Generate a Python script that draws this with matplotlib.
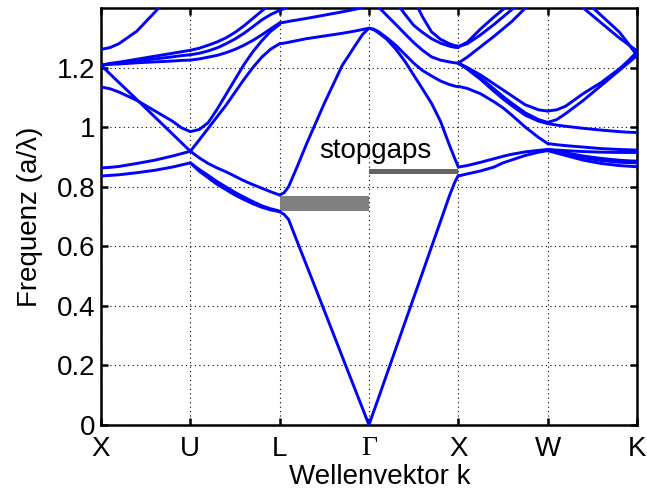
import matplotlib.pyplot as plt

plt.rcParams['font.family'] = ['Liberation Sans', 'DejaVu Sans']

kpoint_labels = ['X', 'U', 'L', 'Γ', 'X', 'W', 'K']
ytick_vals = [0, 0.2, 0.4, 0.6, 0.8, 1.0, 1.2]
ytick_labels = ['0', '0.2', '0.4', '0.6', '0.8', '1', '1.2']

# band frequencies (a/lambda) read along each part of the k-path
# t = fraction of the way between the two symmetry points

# X -> U
xu_t = [0, 0.1, 0.2, 0.4, 0.6, 0.8, 0.9, 1.0]
xu_bands = [
    [0.836, 0.838, 0.840, 0.847, 0.855, 0.866, 0.873, 0.880],
    [0.863, 0.865, 0.868, 0.878, 0.889, 0.903, 0.911, 0.919],
    [1.208, 1.179, 1.150, 1.093, 1.035, 0.977, 0.948, 0.919],
    [1.135, 1.129, 1.118, 1.090, 1.055, 1.020, 0.998, 0.985],
    [1.208, 1.211, 1.212, 1.216, 1.219, 1.222, 1.224, 1.225],
    [1.208, 1.212, 1.215, 1.222, 1.229, 1.236, 1.240, 1.243],
    [1.208, 1.214, 1.218, 1.228, 1.238, 1.248, 1.253, 1.258],
    [1.261, 1.267, 1.280, 1.322, 1.385, 1.450, 1.485, 1.520],
]

# U -> L
ul_t = [0, 0.1, 0.2, 0.3, 0.4, 0.5, 0.6, 0.7, 0.8, 0.9, 1.0]
ul_bands = [
    [0.880, 0.852, 0.830, 0.808, 0.790, 0.772, 0.757, 0.743, 0.731, 0.722, 0.716],
    [0.880, 0.858, 0.838, 0.817, 0.799, 0.781, 0.765, 0.750, 0.736, 0.726, 0.718],
    [0.919, 0.897, 0.878, 0.863, 0.850, 0.835, 0.820, 0.807, 0.795, 0.783, 0.772],
    [0.919, 0.957, 0.996, 1.035, 1.074, 1.117, 1.160, 1.200, 1.235, 1.262, 1.280],
    [0.985, 0.992, 1.015, 1.060, 1.110, 1.160, 1.210, 1.253, 1.290, 1.322, 1.345],
    [1.225, 1.229, 1.235, 1.241, 1.250, 1.261, 1.275, 1.291, 1.310, 1.330, 1.350],
    [1.243, 1.248, 1.256, 1.266, 1.280, 1.296, 1.315, 1.337, 1.360, 1.378, 1.392],
    [1.258, 1.265, 1.275, 1.286, 1.300, 1.318, 1.340, 1.365, 1.390, 1.415, 1.440],
]

# L -> Gamma
lg_t = [0, 0.05, 0.1, 0.2, 0.3, 0.5, 0.7, 0.85, 0.93, 1.0]
lg_bands = [
    [0.716, 0.707, 0.690, 0.613, 0.537, 0.384, 0.230, 0.115, 0.054, 0.0],
    [0.772, 0.780, 0.800, 0.870, 0.943, 1.080, 1.207, 1.276, 1.312, 1.332],
    [1.280, 1.282, 1.285, 1.291, 1.297, 1.306, 1.315, 1.323, 1.328, 1.332],
    [1.350, 1.352, 1.355, 1.360, 1.365, 1.376, 1.387, 1.396, 1.402, 1.410],
    [1.392, 1.398, 1.405, 1.418, 1.430, 1.450, 1.470, 1.490, 1.495, 1.500],
]

# Gamma -> X
gx_t = [0, 0.05, 0.1, 0.2, 0.3, 0.4, 0.5, 0.6, 0.7, 0.8, 0.9, 0.96, 1.0]
gx_bands = [
    [0.0, 0.043, 0.085, 0.171, 0.256, 0.342, 0.427, 0.512, 0.598, 0.683, 0.769, 0.815, 0.838],
    [1.332, 1.328, 1.318, 1.295, 1.262, 1.222, 1.175, 1.128, 1.080, 1.020, 0.940, 0.895, 0.866],
    [1.332, 1.329, 1.322, 1.300, 1.275, 1.245, 1.215, 1.190, 1.172, 1.155, 1.143, 1.138, 1.135],
    [1.450, 1.428, 1.405, 1.375, 1.345, 1.314, 1.284, 1.258, 1.236, 1.225, 1.219, 1.216, 1.215],
    [1.600, 1.565, 1.530, 1.475, 1.420, 1.380, 1.342, 1.318, 1.297, 1.282, 1.272, 1.268, 1.267],
    [1.750, 1.715, 1.680, 1.615, 1.550, 1.490, 1.430, 1.370, 1.320, 1.295, 1.280, 1.274, 1.272],
]

# X -> W
xw_t = [0, 0.1, 0.25, 0.4, 0.5, 0.6, 0.75, 0.9, 1.0]
xw_bands = [
    [0.836, 0.843, 0.853, 0.866, 0.880, 0.890, 0.905, 0.916, 0.921],
    [0.866, 0.871, 0.882, 0.894, 0.902, 0.909, 0.917, 0.922, 0.925],
    [1.137, 1.130, 1.112, 1.085, 1.065, 1.040, 1.000, 0.965, 0.945],
    [1.215, 1.200, 1.175, 1.145, 1.125, 1.105, 1.075, 1.058, 1.054],
    [1.215, 1.195, 1.160, 1.120, 1.095, 1.072, 1.040, 1.020, 1.012],
    [1.215, 1.198, 1.165, 1.128, 1.103, 1.080, 1.048, 1.025, 1.016],
    [1.270, 1.285, 1.330, 1.370, 1.395, 1.420, 1.470, 1.520, 1.550],
    [1.270, 1.280, 1.310, 1.345, 1.370, 1.395, 1.440, 1.490, 1.520],
    [1.215, 1.235, 1.270, 1.305, 1.330, 1.355, 1.400, 1.445, 1.470],
]

# W -> K
wk_t = [0, 0.1, 0.2, 0.4, 0.6, 0.8, 0.9, 1.0]
wk_bands = [
    [0.921, 0.913, 0.905, 0.889, 0.878, 0.871, 0.869, 0.867],
    [0.923, 0.917, 0.910, 0.897, 0.888, 0.882, 0.881, 0.880],
    [0.925, 0.920, 0.914, 0.903, 0.895, 0.889, 0.887, 0.886],
    [0.925, 0.923, 0.921, 0.918, 0.916, 0.915, 0.915, 0.915],
    [0.945, 0.941, 0.938, 0.933, 0.928, 0.925, 0.924, 0.923],
    [1.012, 1.007, 1.003, 0.996, 0.990, 0.985, 0.983, 0.982],
    [1.016, 1.025, 1.045, 1.090, 1.140, 1.190, 1.215, 1.240],
    [1.054, 1.058, 1.070, 1.113, 1.150, 1.195, 1.222, 1.253],
    [1.500, 1.475, 1.450, 1.400, 1.350, 1.300, 1.278, 1.256],
    [1.530, 1.505, 1.480, 1.430, 1.375, 1.320, 1.282, 1.240],
]

segments = [(xu_t, xu_bands), (ul_t, ul_bands), (lg_t, lg_bands),
            (gx_t, gx_bands), (xw_t, xw_bands), (wk_t, wk_bands)]

# stopgaps (lower, upper edge)
gap_lg = (0.718, 0.769)
gap_gx = (0.842, 0.861)

fig = plt.figure(figsize=(6.47, 4.94), dpi=100)
ax = fig.add_axes([0.1561, 0.1397, 0.8284, 0.8441])

for i, (t, bands) in enumerate(segments):
    x = [i + tt for tt in t]
    for f in bands:
        ax.plot(x, f, color='#0000ff', lw=2.1, zorder=3,
                solid_capstyle='round', solid_joinstyle='round')

ax.fill_between([2, 3], gap_lg[0], gap_lg[1], color='#808080', lw=0, zorder=2)
ax.fill_between([3, 4], gap_gx[0], gap_gx[1], color='#666666', lw=0, zorder=2)
ax.text(3.07, 0.897, 'stopgaps', fontsize=20, ha='center', va='baseline')

ax.set_xlim(0, 6)
ax.set_ylim(0, 1.4)
ax.set_xticks(range(len(kpoint_labels)))
ax.set_xticklabels(kpoint_labels)
ax.set_yticks(ytick_vals)
ax.set_yticklabels(ytick_labels)
ax.get_xticklabels()[3].set_family(['Liberation Serif', 'DejaVu Serif'])

ax.tick_params(direction='in', top=True, right=True, length=5, width=1.8,
               labelsize=20)
ax.tick_params(axis='x', pad=8)
ax.tick_params(axis='y', pad=4)
ax.grid(True, color='black', linestyle=(0, (1, 3)), lw=0.8)
for s in ax.spines.values():
    s.set_linewidth(1.8)

ax.set_xlabel('Wellenvektor k', fontsize=20, labelpad=0)
ax.xaxis.set_label_coords(0.52, -0.093)
ax.set_ylabel('Frequenz (a/λ)', fontsize=20, labelpad=10)

fig.savefig('out.png', dpi=100)
